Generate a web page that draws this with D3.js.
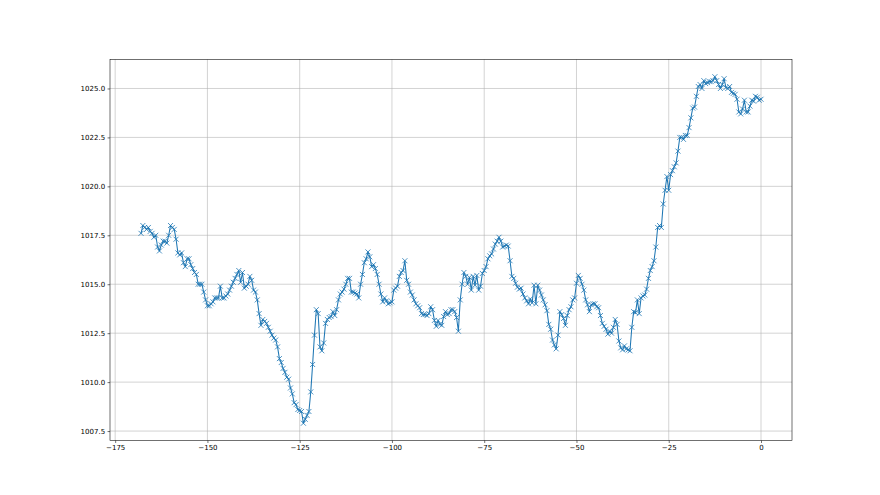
<!DOCTYPE html>
<html>
<head>
<meta charset="utf-8">
<script src="https://cdn.jsdelivr.net/npm/d3@7"></script>
<style>
  html, body { margin: 0; padding: 0; background: #fff; }
  svg { display: block; }
  text { font-family: "DejaVu Sans", sans-serif; }
</style>
</head>
<body>
<svg id="chart" width="880" height="495"></svg>
<script>
// Hours relative to now (half-hourly samples from -168 h to 0 h)
const hoursStart = -168;
const hoursStep = 0.5;

// Pressure readings (hPa)
const pressure = [
  1017.6, 1018.0, 1017.9, 1017.8, 1017.9, 1017.7, 1017.6, 1017.4, 1017.5, 1016.9,
  1016.7, 1017.0, 1017.2, 1017.2, 1017.1, 1017.5, 1018.0, 1017.9, 1017.8, 1017.3,
  1016.6, 1016.5, 1016.6, 1016.1, 1015.9, 1016.3, 1016.3, 1016.0, 1015.8, 1015.6,
  1015.5, 1015.0,
  1015.0, 1015.0, 1014.6, 1014.2, 1013.9, 1013.9, 1014.0, 1014.1, 1014.3, 1014.3,
  1014.3, 1014.9, 1014.3, 1014.3, 1014.4, 1014.5, 1014.7, 1014.9, 1015.1, 1015.3,
  1015.5, 1015.7, 1015.1, 1015.6, 1014.8, 1014.9, 1015.0, 1015.4, 1015.2, 1014.7,
  1014.6, 1014.2, 1013.5, 1012.9, 1013.2, 1013.1, 1013.0, 1012.8, 1012.6, 1012.4,
  1012.25, 1012.15, 1011.8, 1011.2, 1011.0, 1010.7, 1010.5, 1010.25, 1010.15, 1009.7,
  1009.4, 1008.95, 1008.85, 1008.6, 1008.55, 1008.5, 1007.9, 1008.1, 1008.3,
  1008.5, 1009.5, 1010.9, 1012.4, 1013.7, 1013.5, 1011.8, 1011.6, 1012.0, 1013.0,
  1013.2, 1013.3, 1013.35, 1013.6, 1013.4, 1013.7, 1014.2, 1014.5, 1014.6, 1014.75,
  1015.0, 1015.3, 1015.3, 1014.6, 1014.6, 1014.55, 1014.5, 1014.3, 1015.0, 1015.5,
  1016.1, 1016.3, 1016.65,
  1016.4, 1015.9, 1016.0, 1015.8, 1015.5, 1015.0, 1014.5, 1014.1, 1014.3, 1014.15,
  1014.0, 1014.05, 1014.1, 1014.7, 1014.8, 1014.9, 1015.4, 1015.6, 1015.7, 1016.2,
  1015.2, 1015.0, 1014.6, 1014.45, 1014.2, 1014.0, 1013.9, 1013.8, 1013.5,
  1013.45, 1013.45, 1013.4, 1013.5, 1013.85, 1013.7, 1013.15, 1012.85, 1013.15, 1012.95,
  1012.9, 1013.35, 1013.6, 1013.45, 1013.5, 1013.7, 1013.7, 1013.6, 1013.3, 1012.6,
  1014.2, 1015.0, 1015.6, 1015.4, 1015.0, 1015.35, 1014.7, 1015.4, 1014.95, 1015.45,
  1014.7, 1014.9, 1015.55, 1015.7, 1015.9, 1016.3,
  1016.45, 1016.55, 1016.8, 1017.05, 1017.2, 1017.4, 1017.2, 1016.9, 1016.95, 1017.0,
  1016.95, 1016.2, 1015.4, 1015.3, 1015.05, 1014.85, 1014.75, 1014.8, 1014.5, 1014.3,
  1014.15, 1014.0, 1014.25, 1014.05, 1014.95, 1014.0, 1014.95, 1014.7, 1014.45, 1014.2,
  1013.95, 1013.65,
  1012.95, 1012.7, 1012.15, 1011.9, 1011.7, 1012.4, 1013.6, 1013.45, 1013.25, 1012.9,
  1013.4, 1013.7, 1013.85, 1014.2, 1014.3, 1015.05, 1015.45, 1015.3, 1015.0, 1014.7,
  1014.2, 1013.95, 1013.6, 1013.95, 1014.0, 1014.0, 1013.85, 1013.8, 1013.4, 1013.0,
  1012.85, 1012.7, 1012.45,
  1012.6, 1012.5, 1012.8, 1013.2, 1012.95, 1012.1, 1011.75, 1011.65, 1011.85, 1011.7,
  1011.65, 1011.6, 1012.8, 1013.6, 1013.55, 1014.2, 1013.5, 1014.3, 1014.4, 1014.45,
  1014.75, 1015.3, 1015.7,
  1015.9, 1016.2, 1016.9, 1017.9, 1018.0, 1017.9, 1019.1, 1019.8, 1020.5, 1019.8,
  1020.6, 1020.8, 1021.0, 1021.2, 1021.8, 1022.5, 1022.5, 1022.4, 1022.6, 1022.6,
  1023.0, 1023.5, 1024.0, 1024.05, 1024.6, 1025.1, 1025.2, 1025.0, 1025.4, 1025.25,
  1025.3, 1025.35, 1025.35, 1025.4, 1025.6, 1025.4, 1025.2, 1025.0, 1025.2, 1025.5,
  1025.05, 1025.0, 1025.1, 1024.8, 1024.75, 1024.7, 1024.45, 1023.8, 1023.7, 1023.95,
  1024.4, 1023.8, 1023.8, 1024.1, 1024.4, 1024.35, 1024.6, 1024.55, 1024.4, 1024.45
];

const hours = pressure.map((_, i) => hoursStart + i * hoursStep);

const xTicks = [-175, -150, -125, -100, -75, -50, -25, 0];
const yTicks = [1007.5, 1010.0, 1012.5, 1015.0, 1017.5, 1020.0, 1022.5, 1025.0];

(function () {
// ---- layout ----
const axLeft = 110, axRight = 792, axTop = 59.4, axBottom = 440.55;
const pt = 0.7; // px per point

const svg = d3.select("#chart");

const xMin = d3.min(hours), xMax = d3.max(hours);
const yMin = d3.min(pressure), yMax = d3.max(pressure);
const xPad = (xMax - xMin) * 0.05, yPad = (yMax - yMin) * 0.05;

const x = d3.scaleLinear().domain([xMin - xPad, xMax + xPad]).range([axLeft, axRight]);
const y = d3.scaleLinear().domain([yMin - yPad, yMax + yPad]).range([axBottom, axTop]);

// grid
const grid = svg.append("g");
grid.selectAll("line.gx").data(xTicks).join("line").attr("class", "gx")
  .attr("x1", d => x(d)).attr("x2", d => x(d))
  .attr("y1", axTop).attr("y2", axBottom)
  .attr("stroke", "#b0b0b0").attr("stroke-width", 0.8 * pt);
grid.selectAll("line.gy").data(yTicks).join("line").attr("class", "gy")
  .attr("x1", axLeft).attr("x2", axRight)
  .attr("y1", d => y(d)).attr("y2", d => y(d))
  .attr("stroke", "#b0b0b0").attr("stroke-width", 0.8 * pt);

// clip
svg.append("clipPath").attr("id", "clip").append("rect")
  .attr("x", axLeft).attr("y", axTop).attr("width", axRight - axLeft).attr("height", axBottom - axTop);

const data = hours.map((h, i) => [h, pressure[i]]);
const plot = svg.append("g").attr("clip-path", "url(#clip)");

plot.append("path")
  .datum(data)
  .attr("fill", "none")
  .attr("stroke", "#1f77b4")
  .attr("stroke-width", 1.5 * pt)
  .attr("stroke-linejoin", "round")
  .attr("stroke-linecap", "square")
  .attr("d", d3.line().x(d => x(d[0])).y(d => y(d[1])));

const ms = 2.5;
const markers = plot.append("g")
  .attr("stroke", "#1f77b4").attr("stroke-width", 0.8).attr("fill", "none");
markers.selectAll("path").data(data).join("path")
  .attr("d", d => {
    const cx = x(d[0]), cy = y(d[1]);
    return `M${cx - ms},${cy - ms}L${cx + ms},${cy + ms}M${cx - ms},${cy + ms}L${cx + ms},${cy - ms}`;
  });

// axes
const fontSize = 7;
const xAxis = d3.axisBottom(x).tickValues(xTicks).tickFormat(d => d3.format("d")(d).replace("-", "\u2212"))
  .tickSize(3.5 * pt).tickPadding(3.5 * pt);
const yAxis = d3.axisLeft(y).tickValues(yTicks).tickFormat(d3.format(".1f"))
  .tickSize(3.5 * pt).tickPadding(3.5 * pt);

const gx = svg.append("g").attr("transform", `translate(0,${axBottom})`).call(xAxis);
const gy = svg.append("g").attr("transform", `translate(${axLeft},0)`).call(yAxis);
[gx, gy].forEach(g => {
  g.select(".domain").remove();
  g.selectAll(".tick line").attr("stroke", "#000").attr("stroke-width", 0.8 * pt);
  g.selectAll(".tick text").attr("fill", "#000")
    .style("font-family", "'DejaVu Sans', sans-serif").style("font-size", fontSize + "px");
});

// spines
svg.append("rect")
  .attr("x", axLeft).attr("y", axTop).attr("width", axRight - axLeft).attr("height", axBottom - axTop)
  .attr("fill", "none").attr("stroke", "#000").attr("stroke-width", 0.8 * pt);
})();
</script>
</body>
</html>
